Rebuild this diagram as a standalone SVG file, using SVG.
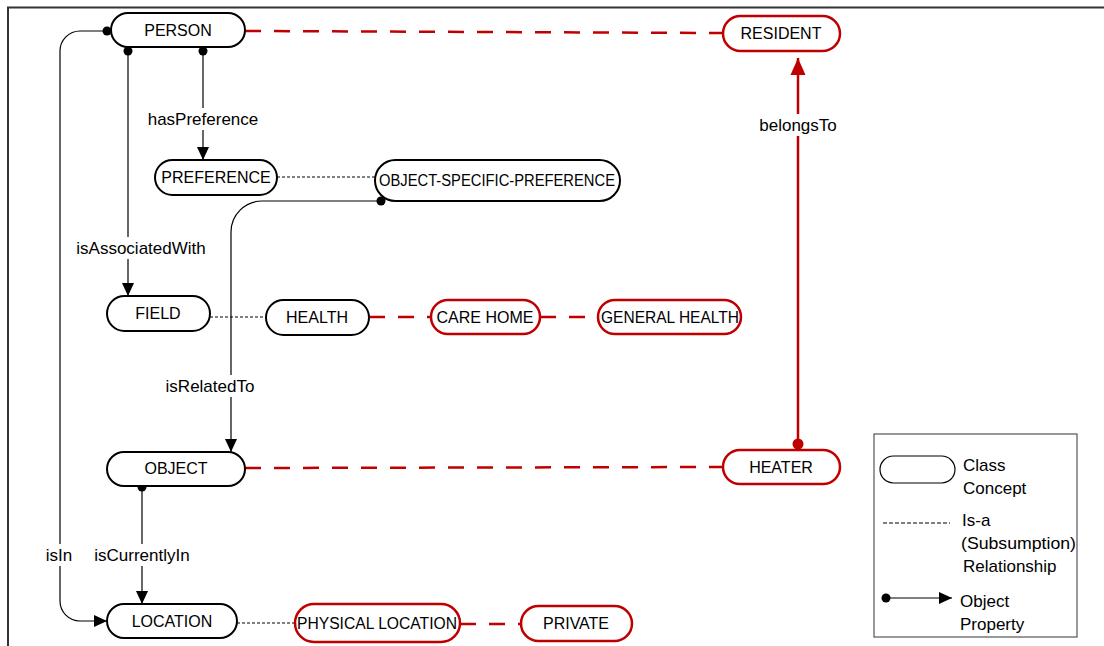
<svg xmlns="http://www.w3.org/2000/svg" width="1104" height="646" viewBox="0 0 1104 646">
<style>
.n{fill:#fff;stroke:#000;stroke-width:2}
.r{fill:#fff;stroke:#c00000;stroke-width:2.5}
text{font-family:"Liberation Sans",Arial,sans-serif;font-size:16px;fill:#000;text-anchor:middle;dominant-baseline:central}
.lb{font-size:17px}
.lg{text-anchor:start;font-size:17px}
.isa{stroke:#000;stroke-width:1;stroke-dasharray:3,2;fill:none}
.rd{stroke:#c00000;stroke-width:2.5;stroke-dasharray:16,13;fill:none}
.op{stroke:#000;stroke-width:1.2;fill:none}
.bg{fill:#fff}
</style>
<defs>
<marker id="ah" markerUnits="userSpaceOnUse" markerWidth="14" markerHeight="14" viewBox="0 0 14 14" refX="13" refY="7" orient="auto">
<path d="M0,1 L13,7 L0,13 Z" fill="#000"/>
</marker>
<marker id="dot" markerUnits="userSpaceOnUse" markerWidth="10" markerHeight="10" viewBox="0 0 10 10" refX="5" refY="5" orient="auto">
<circle cx="5" cy="5" r="4.5" fill="#000"/>
</marker>
<marker id="rah" markerUnits="userSpaceOnUse" markerWidth="18" markerHeight="18" viewBox="0 0 18 18" refX="17" refY="9" orient="auto">
<path d="M0,1.5 L17,9 L0,16.5 Z" fill="#c00000"/>
</marker>
</defs>
<!-- frame -->
<path d="M8,646 V7.5 H1104" fill="none" stroke="#333" stroke-width="2"/>

<g id="connectors">
<line class="rd" x1="245" y1="31" x2="723" y2="33"/>
<line class="rd" x1="245" y1="468" x2="723" y2="467"/>
<line class="rd" x1="369" y1="317" x2="431" y2="317"/>
<line class="rd" x1="540" y1="317" x2="598" y2="317"/>
<line class="rd" x1="460" y1="624" x2="521" y2="624"/>
<line class="isa" x1="277" y1="177" x2="375" y2="177"/>
<line class="isa" x1="210" y1="317" x2="266" y2="317"/>
<line class="isa" x1="237" y1="623" x2="295" y2="623"/>
<path class="op" d="M203,51 V160" marker-start="url(#dot)" marker-end="url(#ah)"/>
<path class="op" d="M128,51 V296" marker-start="url(#dot)" marker-end="url(#ah)"/>
<path class="op" d="M107,31 H80 A20,20 0 0 0 60,51 V601 A20,20 0 0 0 80,621 H107" marker-start="url(#dot)" marker-end="url(#ah)"/>
<path class="op" d="M381,201 H262 A31,31 0 0 0 231,232 V452" marker-start="url(#dot)" marker-end="url(#ah)"/>
<path class="op" d="M142,487 V604" marker-start="url(#dot)" marker-end="url(#ah)"/>
<path d="M798,444 V58" stroke="#c00000" stroke-width="2.5" fill="none" marker-end="url(#rah)"/>
<circle cx="798" cy="444" r="5.5" fill="#c00000"/>
<rect class="bg" x="142" y="108" width="122" height="22"/>
<text class="lb" x="203" y="119">hasPreference</text>
<rect class="bg" x="70" y="237" width="144" height="22"/>
<text class="lb" x="141" y="248">isAssociatedWith</text>
<rect class="bg" x="158" y="375" width="104" height="22"/>
<text class="lb" x="210" y="386">isRelatedTo</text>
<rect class="bg" x="43" y="544" width="34" height="22"/>
<text class="lb" x="59" y="555">isIn</text>
<rect class="bg" x="88" y="544" width="108" height="22"/>
<text class="lb" x="142" y="555">isCurrentlyIn</text>
<rect class="bg" x="753" y="114" width="90" height="22"/>
<text class="lb" x="798" y="125">belongsTo</text>
</g>

<g id="person"><rect class="n" x="111" y="13" width="134" height="34" rx="17"/><text x="178" y="30">PERSON</text></g>
<g id="resident"><rect class="r" x="723" y="16" width="117" height="35" rx="17.5"/><text x="781" y="33">RESIDENT</text></g>
<g id="preference"><rect class="n" x="155" y="160" width="122" height="35" rx="17.5"/><text x="216" y="177">PREFERENCE</text></g>
<g id="osp"><rect class="n" x="375" y="160" width="245" height="41" rx="20.5"/><text x="497" y="180" textLength="236" lengthAdjust="spacingAndGlyphs">OBJECT-SPECIFIC-PREFERENCE</text></g>
<g id="field"><rect class="n" x="107" y="296" width="103" height="35" rx="17.5"/><text x="158" y="313">FIELD</text></g>
<g id="health"><rect class="n" x="266" y="300" width="103" height="35" rx="17.5"/><text x="317" y="317">HEALTH</text></g>
<g id="carehome"><rect class="r" x="431" y="300" width="109" height="34" rx="17"/><text x="485" y="317">CARE HOME</text></g>
<g id="generalhealth"><rect class="r" x="598" y="300" width="143" height="34" rx="17"/><text x="670" y="317" textLength="138" lengthAdjust="spacingAndGlyphs">GENERAL HEALTH</text></g>
<g id="object"><rect class="n" x="107" y="452" width="138" height="34" rx="17"/><text x="176" y="468">OBJECT</text></g>
<g id="heater"><rect class="r" x="723" y="450" width="117" height="34" rx="17"/><text x="781" y="467">HEATER</text></g>
<g id="location"><rect class="n" x="107" y="604" width="130" height="34" rx="17"/><text x="172" y="621">LOCATION</text></g>
<g id="physicallocation"><rect class="r" x="295" y="604" width="165" height="38" rx="19"/><text x="377" y="623" textLength="160" lengthAdjust="spacingAndGlyphs">PHYSICAL LOCATION</text></g>
<g id="private"><rect class="r" x="521" y="606" width="111" height="35" rx="17.5"/><text x="576" y="623">PRIVATE</text></g>

<g id="legend">
<rect x="874" y="434" width="203" height="203" fill="#fff" stroke="#555" stroke-width="1.2"/>
<rect x="880" y="456" width="75" height="27" rx="13.5" fill="#fff" stroke="#000" stroke-width="1.2"/>
<text class="lg" x="963" y="465">Class</text>
<text class="lg" x="963" y="488">Concept</text>
<line x1="883" y1="523" x2="950" y2="523" stroke="#000" stroke-width="1" stroke-dasharray="4,2"/>
<text class="lg" x="962" y="520">Is-a</text>
<text class="lg" x="961" y="543" textLength="115" lengthAdjust="spacingAndGlyphs">(Subsumption)</text>
<text class="lg" x="963" y="566">Relationship</text>
<path class="op" d="M886,598 H952" marker-start="url(#dot)" marker-end="url(#ah)"/>
<text class="lg" x="960" y="601">Object</text>
<text class="lg" x="960" y="624">Property</text>
</g>
</svg>
